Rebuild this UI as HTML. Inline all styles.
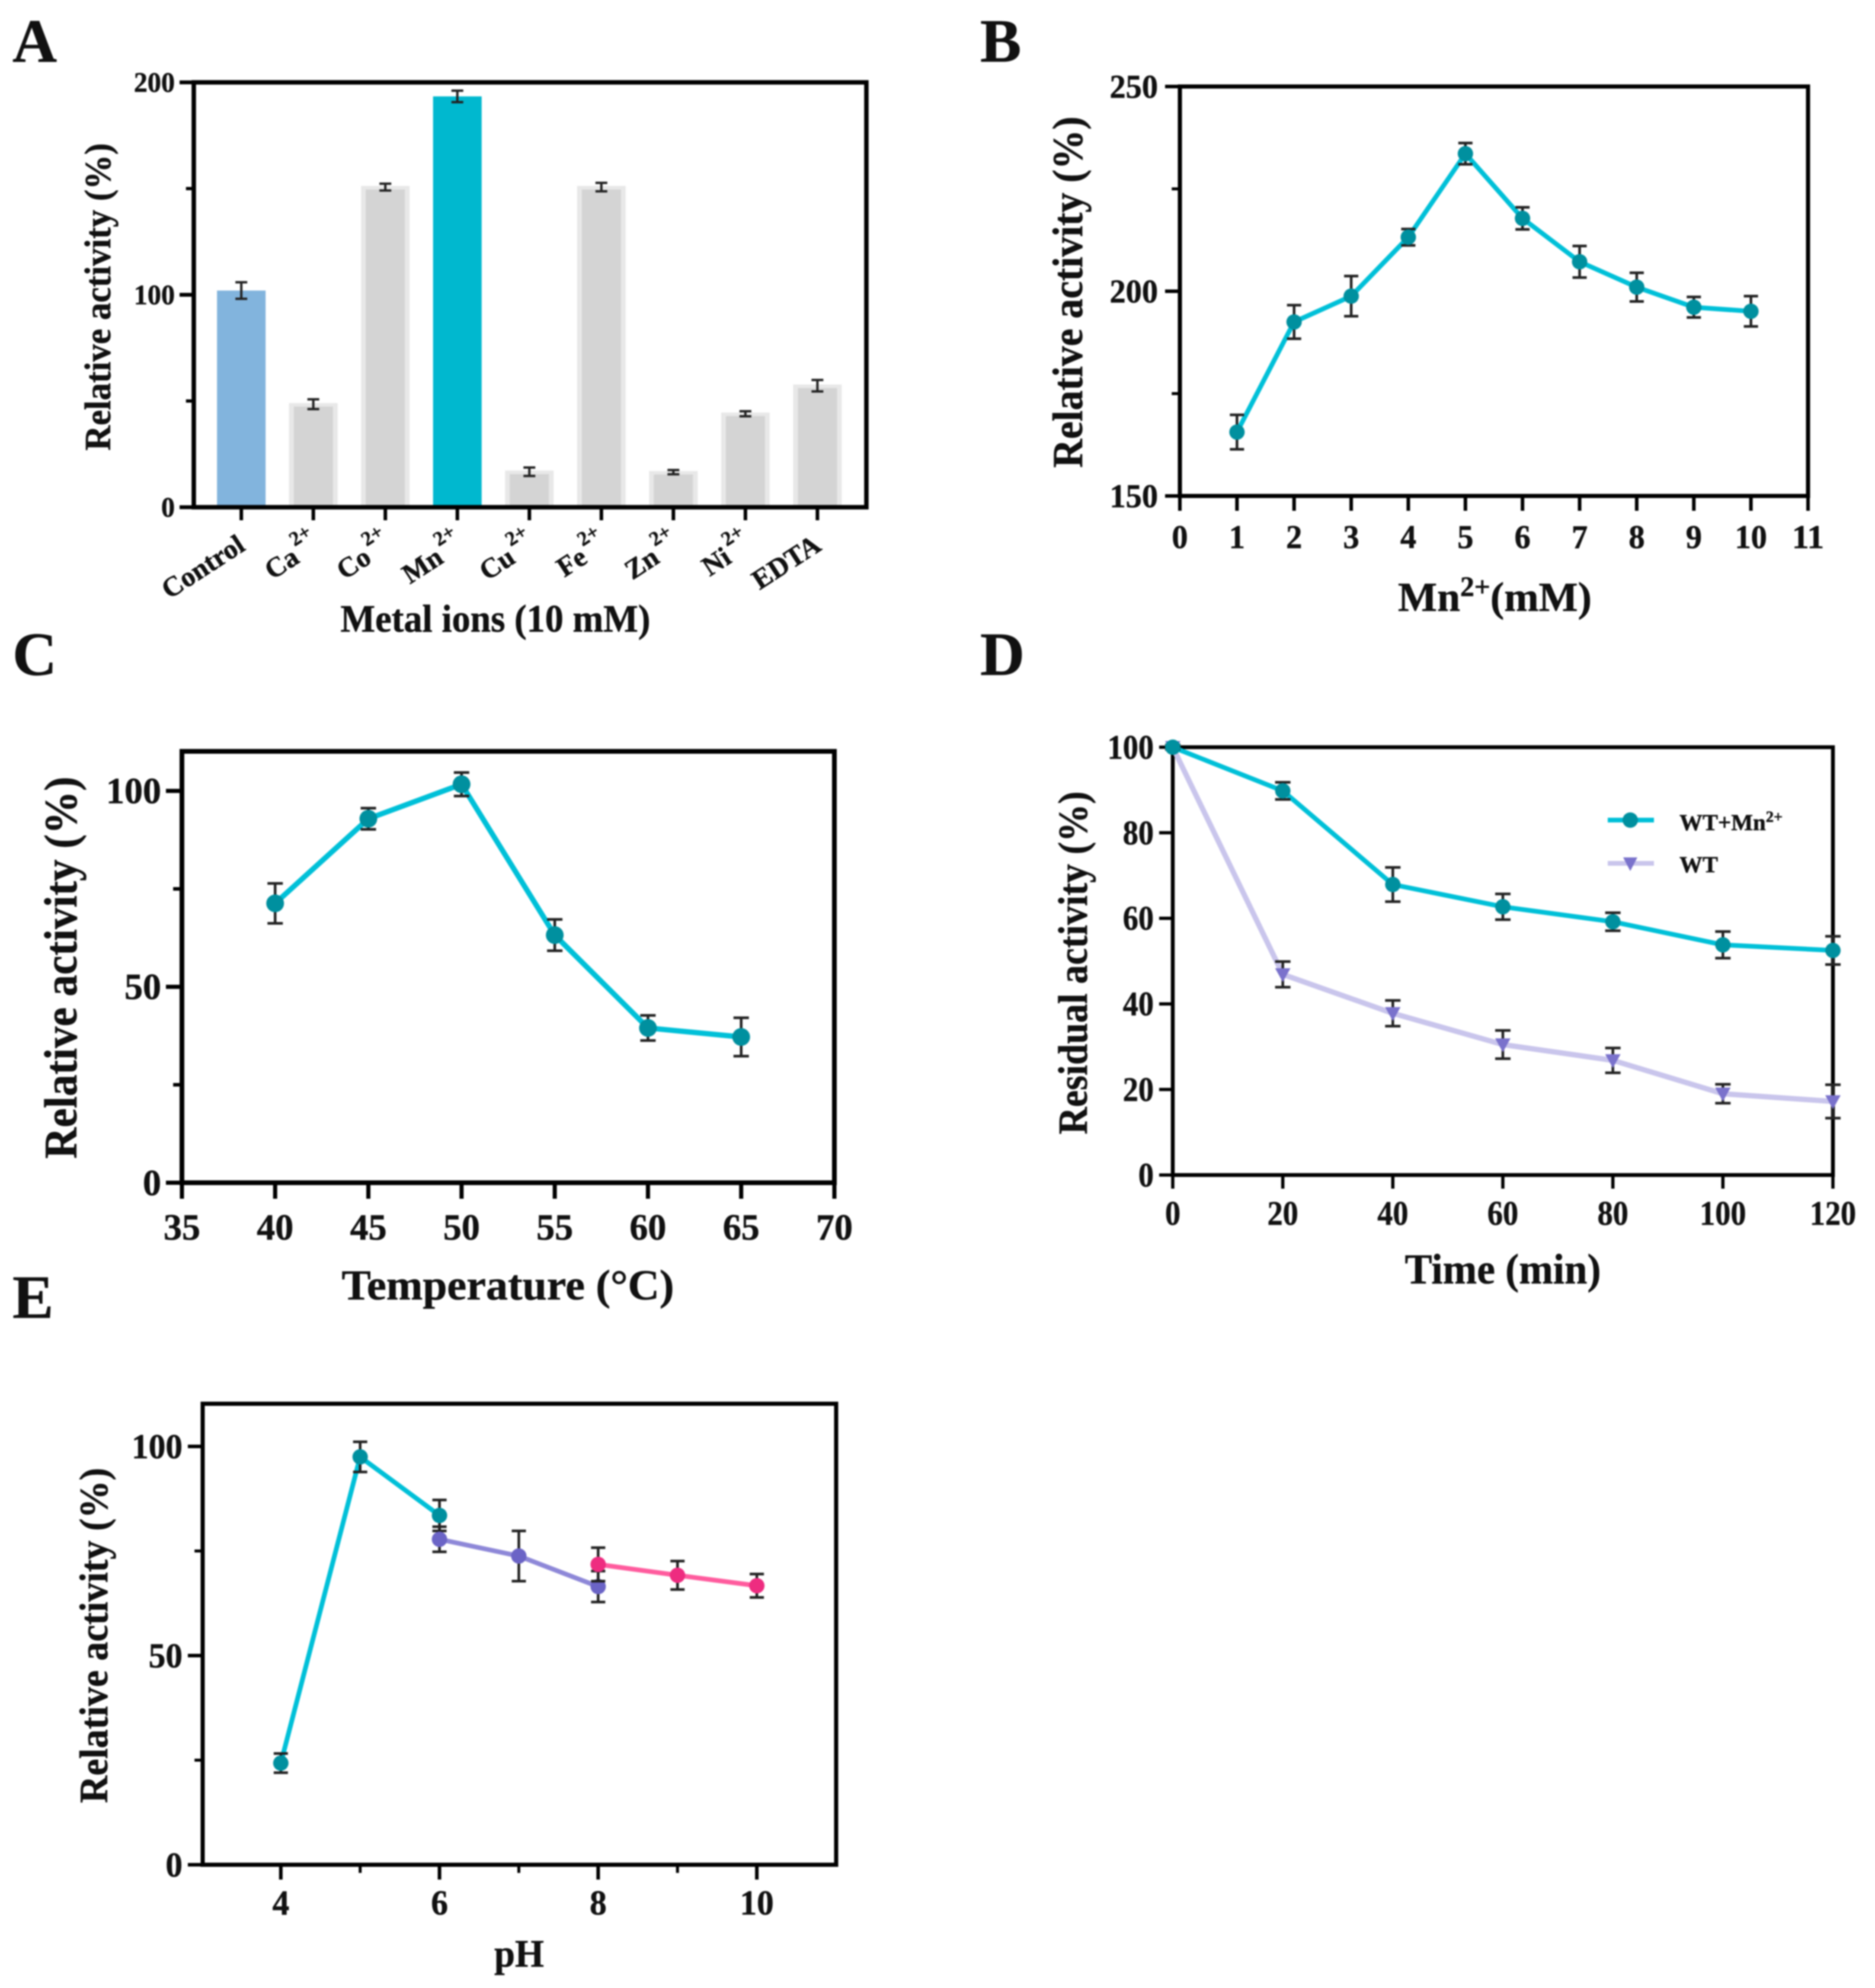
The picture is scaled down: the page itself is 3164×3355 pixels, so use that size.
<!DOCTYPE html>
<html lang="en">
<head>
<meta charset="utf-8">
<title>Relative activity panels</title>
<style>
html,body{margin:0;padding:0;background:#fff;}
#figure{display:block;width:3164px;height:3355px;filter:blur(1.3px);}
text{font-family:"Liberation Serif",serif;font-weight:bold;fill:#111;stroke:#111;stroke-width:0.6px;}
</style>
</head>
<body>
<svg id="figure" xmlns="http://www.w3.org/2000/svg" width="3164" height="3355" viewBox="0 0 3164 3355"></svg>
<script>
/* ---------- Panel A data ---------- */
const metalNames = ["Control","Ca","Co","Mn","Cu","Fe","Zn","Ni","EDTA"];
const metalCharges = ["","2+","2+","2+","2+","2+","2+","2+",""];
const metalValues = [102,48.5,150.7,193.4,16.7,150.7,16.5,44,57.2];
const metalErrors = [3.9,2.3,1.6,2.7,2,2,1,1.2,2.7];
const metalYTicks = [0,100,200];
const metalYMinor = [50,150];

/* ---------- Panel B data ---------- */
const mnConc = [1,2,3,4,5,6,7,8,9,10];
const mnValues = [165.6,192.5,198.8,213.2,233.6,217.8,207.2,201,196.1,195.1];
const mnErrors = [4.2,4.1,4.9,2,2.6,2.7,3.85,3.5,2.5,3.7];
const mnXTicks = [0,1,2,3,4,5,6,7,8,9,10,11];
const mnYTicks = [150,200,250];
const mnYMinor = [175,225];

/* ---------- Panel C data ---------- */
const tempC = [40,45,50,55,60,65];
const tempValues = [71.3,92.9,101.7,63.2,39.5,37.2];
const tempErrors = [5.1,2.7,3,4,3.2,4.9];
const tempXTicks = [35,40,45,50,55,60,65,70];
const tempYTicks = [0,50,100];
const tempYMinor = [25,75];

/* ---------- Panel D data ---------- */
const timeMin = [0,20,40,60,80,100,120];
const wtMnValues = [100,89.8,67.9,62.7,59.2,53.8,52.5];
const wtMnErrors = [0.5,2,4,3,2.1,3.1,3.3];
const wtValues = [100,46.9,37.8,30.5,26.8,19,17.2];
const wtErrors = [0.5,3,3,3.3,2.9,2.2,3.9];
const timeXTicks = [0,20,40,60,80,100,120];
const timeYTicks = [0,20,40,60,80,100];

/* ---------- Panel E data ---------- */
const phAcid = [4,5,6];
const phAcidValues = [24.3,97.5,83.5];
const phAcidErrors = [2.3,3.6,3.7];
const phNeutral = [6,7,8];
const phNeutralValues = [77.8,73.8,66.5];
const phNeutralErrors = [3,6,3.7];
const phBasic = [8,9,10];
const phBasicValues = [71.8,69.2,66.7];
const phBasicErrors = [4,3.4,2.8];
const phXTicks = [4,6,8,10];
const phXMinor = [5,7,9];
const phYTicks = [0,50,100];
const phYMinor = [25,75];

const SVG_NS = "http://www.w3.org/2000/svg";
const root = document.getElementById("figure");

function make(tag, attrs, parent, name) {
  const node = document.createElementNS(SVG_NS, tag);
  for (const k in attrs) node.setAttribute(k, attrs[k]);
  
  
  parent.appendChild(node);
  return node;
}

function addText(parent, name, str, x, y, size, anchor, opts) {
  const o = opts || {};
  const attrs = {x: x, y: y, "font-size": size, "text-anchor": anchor};
  if (o.rotate !== undefined) {
    attrs.transform = "rotate(" + o.rotate + " " + x + " " + y + ")";
  }
  if (o.len) {
    attrs.textLength = o.len;
    attrs.lengthAdjust = "spacingAndGlyphs";
  }
  const t = make("text", attrs, parent, name);
  t.textContent = str;
  return t;
}

function addSuperText(parent, name, base, sup, tail, x, y, size, anchor) {
  const attrs = {x: x, y: y, "font-size": size, "text-anchor": anchor};
  const t = make("text", attrs, parent, name);
  t.appendChild(document.createTextNode(base));
  if (sup) {
    const s = document.createElementNS(SVG_NS, "tspan");
    s.setAttribute("dy", -size * 0.36);
    s.setAttribute("font-size", size * 0.68);
    s.textContent = sup;
    t.appendChild(s);
  }
  if (tail) {
    const r = document.createElementNS(SVG_NS, "tspan");
    r.setAttribute("dy", size * 0.36);
    r.textContent = tail;
    t.appendChild(r);
  }
  return t;
}

function linearScale(d0, d1, r0, r1) {
  return function (v) { return r0 + (v - d0) * (r1 - r0) / (d1 - d0); };
}

function drawAxes(g, cfg) {
  const sw = cfg.stroke;
  make("rect", {x: cfg.left, y: cfg.top, width: cfg.right - cfg.left, height: cfg.bottom - cfg.top,
    fill: "none", stroke: "#000", "stroke-width": sw}, g, "plot-frame");
  cfg.yTicks.forEach(function (v) {
    const y = cfg.y(v);
    make("line", {x1: cfg.left - cfg.tickLen, x2: cfg.left, y1: y, y2: y, stroke: "#000", "stroke-width": sw - 1}, g, "y-tick");
    const w = String(v).length * 0.5 * cfg.font * cfg.hscale;
    addText(g, "y-tick-label", String(v), cfg.left - cfg.tickLen - cfg.labelGap, y + cfg.font * 0.335, cfg.font, "end", {len: w});
  });
  (cfg.yMinor || []).forEach(function (v) {
    const y = cfg.y(v);
    make("line", {x1: cfg.left - cfg.tickLen * 0.55, x2: cfg.left, y1: y, y2: y, stroke: "#000", "stroke-width": sw - 2}, g, "y-minor-tick");
  });
  (cfg.xTicks || []).forEach(function (v) {
    const x = cfg.x(v);
    make("line", {x1: x, x2: x, y1: cfg.bottom, y2: cfg.bottom + cfg.tickLen, stroke: "#000", "stroke-width": sw - 1}, g, "x-tick");
    const w = String(v).length * 0.5 * cfg.font * cfg.hscale;
    addText(g, "x-tick-label", String(v), x, cfg.xLabelY, cfg.font, "middle", {len: w});
  });
  (cfg.xMinor || []).forEach(function (v) {
    const x = cfg.x(v);
    make("line", {x1: x, x2: x, y1: cfg.bottom, y2: cfg.bottom + cfg.tickLen * 0.55, stroke: "#000", "stroke-width": sw - 2}, g, "x-minor-tick");
  });
}

function drawErrorBar(g, x, y0, y1, cap, sw) {
  make("line", {x1: x, x2: x, y1: y0, y2: y1, stroke: "#222", "stroke-width": sw}, g, "error-bar");
  make("line", {x1: x - cap, x2: x + cap, y1: y0, y2: y0, stroke: "#222", "stroke-width": sw}, g, "error-cap-top");
  make("line", {x1: x - cap, x2: x + cap, y1: y1, y2: y1, stroke: "#222", "stroke-width": sw}, g, "error-cap-bottom");
}

function drawSeries(g, cfg, xs, ys, errs, style, name) {
  const s = make("g", {}, g, name);
  const pts = xs.map(function (v, i) { return cfg.x(v) + "," + cfg.y(ys[i]); }).join(" ");
  make("polyline", {points: pts, fill: "none", stroke: style.line, "stroke-width": style.width, "stroke-linejoin": "round"}, s, name + "-line");
  xs.forEach(function (v, i) {
    drawErrorBar(s, cfg.x(v), cfg.y(ys[i] + errs[i]), cfg.y(ys[i] - errs[i]), style.cap, 4.5);
  });
  xs.forEach(function (v, i) {
    const px = cfg.x(v), py = cfg.y(ys[i]);
    if (style.shape === "triangle") {
      const r = style.r;
      make("polygon", {points: (px - r) + "," + (py - r * 0.8) + " " + (px + r) + "," + (py - r * 0.8) + " " + px + "," + (py + r),
        fill: style.mark}, s, name + "-point");
    } else {
      make("circle", {cx: px, cy: py, r: style.r, fill: style.mark}, s, name + "-point");
    }
  });
}

/* ---------- Panel letters ---------- */
addText(root, "panel-label-a", "A", 21, 104, 104, "start");
addText(root, "panel-label-b", "B", 1654, 104, 104, "start");
addText(root, "panel-label-c", "C", 21, 1139, 104, "start");
addText(root, "panel-label-d", "D", 1654, 1139, 104, "start");
addText(root, "panel-label-e", "E", 21, 2224, 104, "start");

/* ---------- Panel A ---------- */
(function () {
  const g = make("g", {}, root, "panel-a-metal-ions-bar-chart");
  const cfg = {left: 327, right: 1462, top: 139, bottom: 856, stroke: 7.5, tickLen: 24, labelGap: 8, font: 48, hscale: 0.96};
  cfg.y = linearScale(0, 200, cfg.bottom, cfg.top);
  cfg.yTicks = metalYTicks;
  cfg.yMinor = metalYMinor;
  const step = (cfg.right - cfg.left) / (metalNames.length + 0.34);
  const bandX = function (i) { return cfg.left + step * (i + 0.66); };
  const barWidth = 82;
  metalNames.forEach(function (n, i) {
    const main = n === "Control" ? "#82b4dd" : (n === "Mn" ? "#00b8cf" : "#d4d4d4");
    const x = bandX(i), top = cfg.y(metalValues[i]);
    if (main === "#d4d4d4") {
      make("rect", {x: x - barWidth / 2, y: top - 2, width: barWidth, height: cfg.bottom - top + 2, fill: "#e8e8e8"}, g, "bar-halo-" + n.toLowerCase());
      make("rect", {x: x - barWidth / 2 + 8, y: top + 4, width: barWidth - 16, height: cfg.bottom - top - 4, fill: main}, g, "bar-" + n.toLowerCase());
    } else {
      make("rect", {x: x - barWidth / 2, y: top, width: barWidth, height: cfg.bottom - top, fill: main}, g, "bar-" + n.toLowerCase());
    }
    drawErrorBar(g, x, cfg.y(metalValues[i] + metalErrors[i]), cfg.y(metalValues[i] - metalErrors[i]), 10, 4);
  });
  drawAxes(g, cfg);
  metalNames.forEach(function (n, i) {
    const x = bandX(i);
    make("line", {x1: x, x2: x, y1: cfg.bottom, y2: cfg.bottom + 22, stroke: "#000", "stroke-width": 6}, g, "x-tick");
    const charged = metalCharges[i] !== "";
    const ax = charged ? x - 21 : x + 9;
    const ay = cfg.bottom + (charged ? 92 : 71);
    const holder = make("g", {transform: "translate(" + ax + " " + ay + ") rotate(-33)"}, g, "x-tick-label-group-" + n.toLowerCase());
    addText(holder, "x-tick-label-" + n.toLowerCase(), n, 0, 0, 47, "end");
    if (charged) {
      addText(holder, "x-tick-charge-" + n.toLowerCase(), metalCharges[i], 5, -27, 34, "start");
    }
  });
  addText(g, "y-axis-title", "Relative activity (%)", 186, 501, 62, "middle", {rotate: -90, len: 519});
  addText(g, "x-axis-title", "Metal ions (10 mM)", 836, 1066, 66, "middle", {len: 523});
})();

/* ---------- Panel B ---------- */
(function () {
  const g = make("g", {}, root, "panel-b-mn-concentration-chart");
  const cfg = {left: 1991, right: 3051, top: 146, bottom: 837, stroke: 7, tickLen: 25, labelGap: 12, font: 56, hscale: 0.97, xLabelY: 925};
  cfg.x = linearScale(0, 11, cfg.left, cfg.right);
  cfg.y = linearScale(150, 250, cfg.bottom, cfg.top);
  cfg.xTicks = mnXTicks;
  cfg.yTicks = mnYTicks;
  cfg.yMinor = mnYMinor;
  drawAxes(g, cfg);
  drawSeries(g, cfg, mnConc, mnValues, mnErrors, {line: "#00c0d8", mark: "#00909f", width: 8, r: 13, cap: 12}, "series-mn");
  addText(g, "y-axis-title", "Relative activity (%)", 1826, 493, 72, "middle", {rotate: -90, len: 593});
  addSuperText(g, "x-axis-title", "Mn", "2+", "(mM)", 2359, 1031, 70, "start");
})();

/* ---------- Panel C ---------- */
(function () {
  const g = make("g", {}, root, "panel-c-temperature-chart");
  const cfg = {left: 307, right: 1408, top: 1268, bottom: 1996, stroke: 8, tickLen: 27, labelGap: 8, font: 62, hscale: 1, xLabelY: 2092};
  cfg.x = linearScale(35, 70, cfg.left, cfg.right);
  cfg.y = linearScale(0, 110.1, cfg.bottom, cfg.top);
  cfg.xTicks = tempXTicks;
  cfg.yTicks = tempYTicks;
  cfg.yMinor = tempYMinor;
  drawAxes(g, cfg);
  drawSeries(g, cfg, tempC, tempValues, tempErrors, {line: "#00c0d8", mark: "#00909f", width: 9, r: 15, cap: 13}, "series-temperature");
  addText(g, "y-axis-title", "Relative activity (%)", 129, 1633, 78, "middle", {rotate: -90, len: 645});
  addText(g, "x-axis-title", "Temperature (\u00B0C)", 857, 2193, 72, "middle", {len: 561});
})();

/* ---------- Panel D ---------- */
(function () {
  const g = make("g", {}, root, "panel-d-residual-activity-chart");
  const cfg = {left: 1979, right: 3093, top: 1261, bottom: 1983, stroke: 6.5, tickLen: 23, labelGap: 9, font: 58, hscale: 0.9, xLabelY: 2067};
  cfg.x = linearScale(0, 120, cfg.left, cfg.right);
  cfg.y = linearScale(0, 100, cfg.bottom, cfg.top);
  cfg.xTicks = timeXTicks;
  cfg.yTicks = timeYTicks;
  drawAxes(g, cfg);
  const wtStyle = {line: "#c9c5ec", mark: "#7a72cc", width: 9, r: 13, cap: 13, shape: "triangle"};
  const wtMnStyle = {line: "#00c0d8", mark: "#00909f", width: 8, r: 13, cap: 13};
  drawSeries(g, cfg, timeMin, wtValues, wtErrors, wtStyle, "series-wt");
  drawSeries(g, cfg, timeMin, wtMnValues, wtMnErrors, wtMnStyle, "series-wt-mn");
  addText(g, "y-axis-title", "Residual activity (%)", 1834, 1625, 70, "middle", {rotate: -90, len: 579});
  addText(g, "x-axis-title", "Time (min)", 2536, 2166, 72, "middle", {len: 331});

  const legend = make("g", {}, g, "legend");
  make("line", {x1: 2713, x2: 2791, y1: 1384, y2: 1384, stroke: wtMnStyle.line, "stroke-width": 8}, legend, "legend-line-wt-mn");
  make("circle", {cx: 2751, cy: 1384, r: 13, fill: wtMnStyle.mark}, legend, "legend-marker-wt-mn");
  addSuperText(legend, "legend-label-wt-mn", "WT+Mn", "2+", "", 2834, 1401, 39, "start");
  make("line", {x1: 2713, x2: 2791, y1: 1457, y2: 1457, stroke: wtStyle.line, "stroke-width": 8}, legend, "legend-line-wt");
  make("polygon", {points: "2739,1447 2763,1447 2751,1470", fill: wtStyle.mark}, legend, "legend-marker-wt");
  addText(legend, "legend-label-wt", "WT", 2834, 1472, 39, "start");
})();

/* ---------- Panel E ---------- */
(function () {
  const g = make("g", {}, root, "panel-e-ph-chart");
  const cfg = {left: 342, right: 1411, top: 2369, bottom: 3147, stroke: 7, tickLen: 25, labelGap: 9, font: 59, hscale: 0.97, xLabelY: 3231};
  cfg.x = linearScale(3, 11, cfg.left - 2, cfg.right);
  cfg.y = linearScale(0, 110.2, cfg.bottom, cfg.top);
  cfg.xTicks = phXTicks;
  cfg.xMinor = phXMinor;
  cfg.yTicks = phYTicks;
  cfg.yMinor = phYMinor;
  drawAxes(g, cfg);
  drawSeries(g, cfg, phAcid, phAcidValues, phAcidErrors, {line: "#00c0d8", mark: "#00909f", width: 8, r: 13, cap: 12}, "series-ph-acid");
  drawSeries(g, cfg, phNeutral, phNeutralValues, phNeutralErrors, {line: "#8e88d8", mark: "#6b64c6", width: 8, r: 13, cap: 12}, "series-ph-neutral");
  drawSeries(g, cfg, phBasic, phBasicValues, phBasicErrors, {line: "#ff5c9e", mark: "#ee2c80", width: 8, r: 13, cap: 12}, "series-ph-basic");
  addText(g, "y-axis-title", "Relative activity (%)", 181, 2760, 68, "middle", {rotate: -90, len: 566});
  addText(g, "x-axis-title", "pH", 876, 3319, 66, "middle", {len: 84});
})();
</script>
</body>
</html>
